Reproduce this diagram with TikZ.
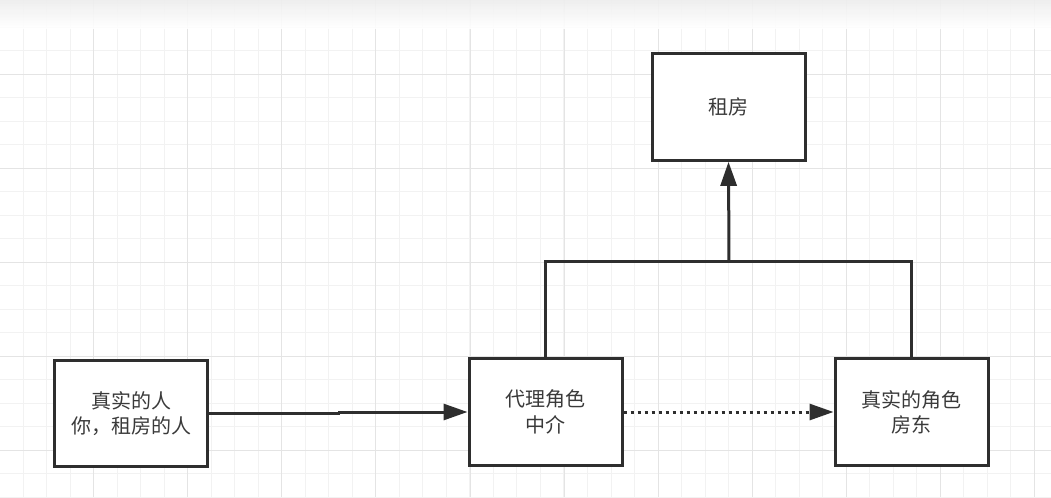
\documentclass[tikz,border=0pt]{standalone}
\usepackage{fontspec}
\newfontfamily\cjk{Noto Sans CJK SC}
\usetikzlibrary{arrows.meta}
\definecolor{ink}{HTML}{2E2E2E}
\definecolor{txt}{HTML}{3A3A3A}
\definecolor{minorgrid}{HTML}{F2F2F2}
\definecolor{majorgrid}{HTML}{E4E4E4}
\tikzset{
  stepbox/.style={draw=ink, line width=2.25pt, fill=white, minimum width=114.75pt, minimum height=80pt, inner sep=0pt, align=center, text=txt, font=\cjk\fontsize{15pt}{19pt}\selectfont},
  conn/.style={draw=ink, line width=2.25pt},
  arr/.style={conn, -{Triangle[length=18pt, width=12pt]}},
  dotarr/.style={conn, dash pattern=on 2.25pt off 3pt, -{Triangle[length=18pt, width=12pt]}}
}
\begin{document}
\begin{tikzpicture}[x=0.75pt, y=-0.75pt]
\useasboundingbox (0,0) rectangle (1051,497);
\fill[white] (0,0) rectangle (1051,497);
% minor grid
\foreach \i in {0,...,45} {
  \draw[minorgrid, line width=0.75pt] ({\i*23.52-0.5},0) -- ({\i*23.52-0.5},497);
}
\foreach \j in {0,...,21} {
  \draw[minorgrid, line width=0.75pt] (0,{3.5+\j*23.52}) -- (1051,{3.5+\j*23.52});
}
% major grid
\foreach \i in {0,...,11} {
  \draw[majorgrid, line width=0.75pt] ({\i*94.1-0.5},0) -- ({\i*94.1-0.5},497);
}
\foreach \j in {0,...,5} {
  \draw[majorgrid, line width=0.75pt] (0,{74+\j*94.1}) -- (1051,{74+\j*94.1});
}
% top fade
\shade[top color=black!7, bottom color=white, fill opacity=0.9] (0,0) rectangle (1051,28);

% nodes
\node[stepbox] (tz) at (728.5,107) {租房};
\node[stepbox] (ren) at (131,413.5) {真实的人\\你，租房的人};
\node[stepbox] (dl) at (545.5,412) {代理角色\\中介};
\node[stepbox] (fd) at (911.5,412) {真实的角色\\房东};

\coordinate (j) at (729,261);
\coordinate (k1) at (338,413.5);
\coordinate (k2) at (338,412);

% connectors
\draw[conn] (ren.east) -- (k1) -- (k2);
\draw[arr] (k2) -- (dl.west);
\draw[dotarr] (dl.east) -- (fd.west);
\draw[conn, line join=miter] (dl.north) -- (dl.north |- j) -- (fd.north |- j) -- (fd.north);
\draw[arr] (j) -- (tz.south);
\end{tikzpicture}
\end{document}
